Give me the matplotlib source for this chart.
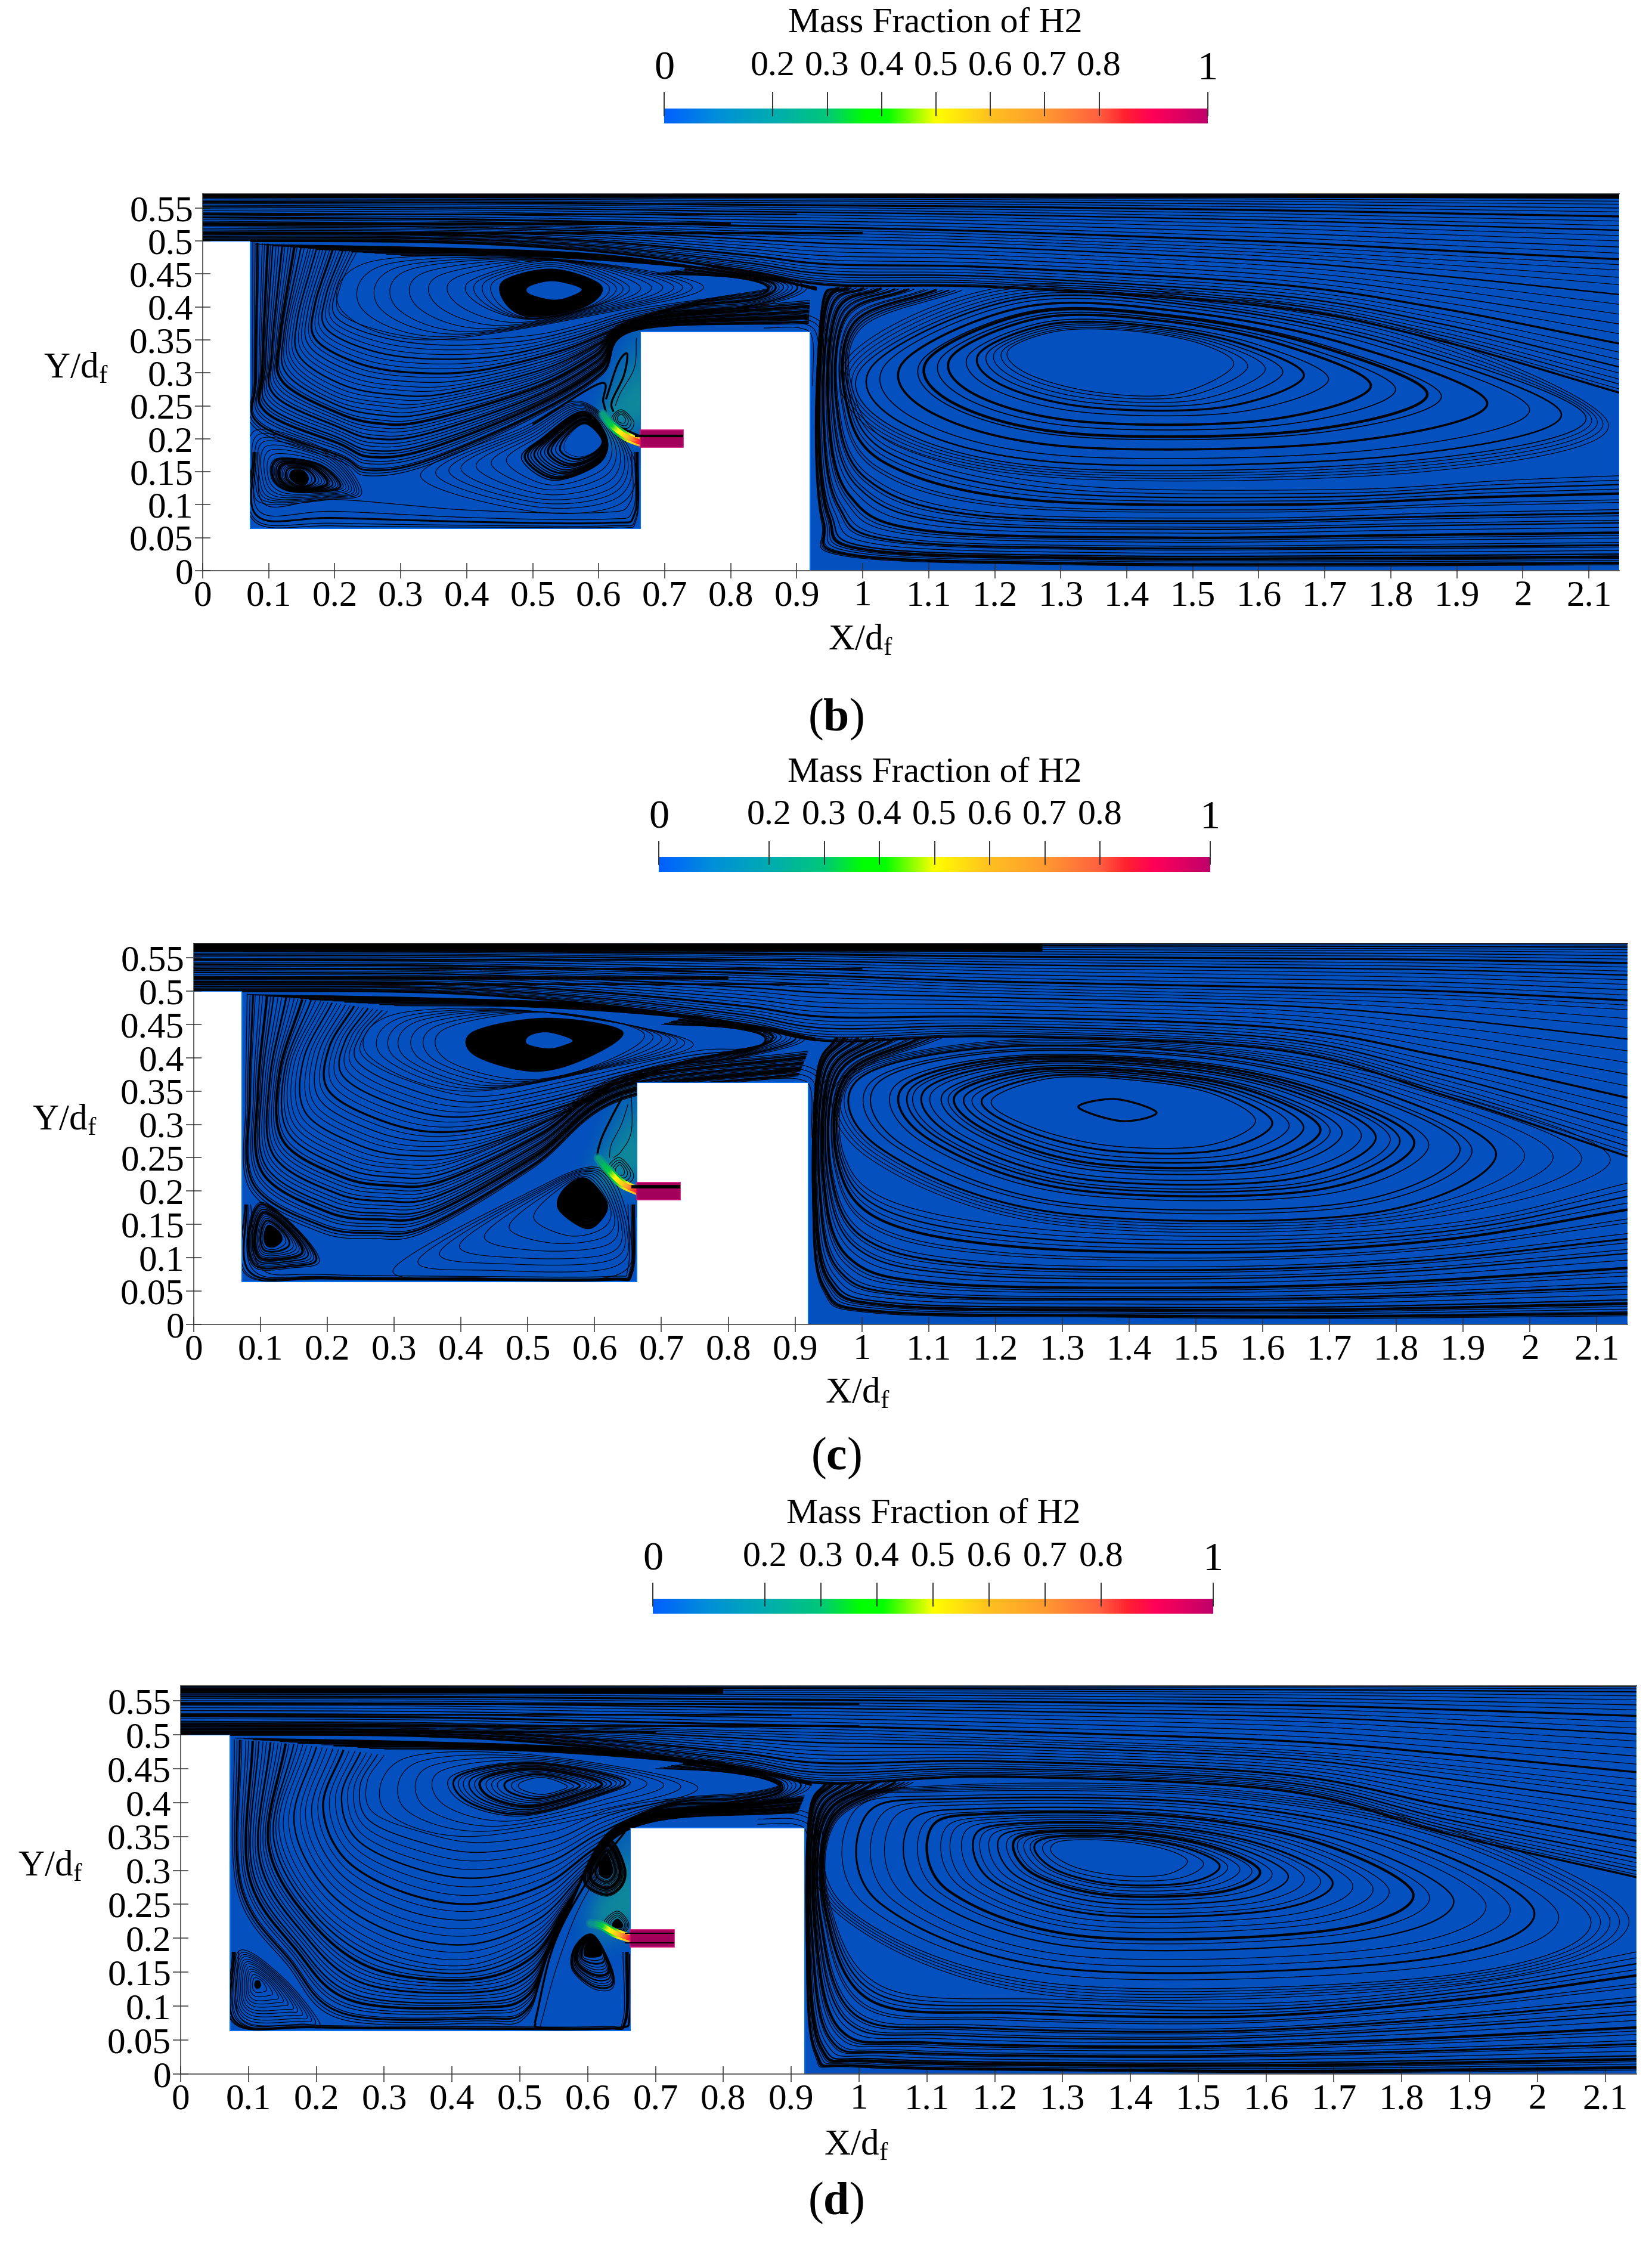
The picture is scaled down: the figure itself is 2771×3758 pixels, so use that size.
import numpy as np
import matplotlib
matplotlib.use("Agg")
import matplotlib.pyplot as plt
from matplotlib.collections import LineCollection
from matplotlib.colors import LinearSegmentedColormap
from matplotlib.patches import PathPatch, Rectangle
from matplotlib.path import Path

plt.rcParams["font.family"] = ["Liberation Serif", "DejaVu Serif"]
plt.rcParams["mathtext.fontset"] = "custom"
plt.rcParams["mathtext.rm"] = "Liberation Serif"
plt.rcParams["mathtext.bf"] = "Liberation Serif:bold"

W, H = 2771, 3758
FIELD = "#0350BE"

# colour bar
CB_POS = [0, .1, .2, .3, .37, .41, .5, .6, .7, .8, .85, .9, 1]
CB_COL = ["#0060ff", "#0090d8", "#00acb0", "#00c878", "#00ff00", "#00ff00", "#ffff00",
          "#ffc020", "#ff9a30", "#ff6040", "#ff2030", "#ff0058", "#c0006a"]
CB_TICKS = [.2, .3, .4, .5, .6, .7, .8]

# geometry of the duct, in X/df and Y/df
GEOM_X = [0, .0727, .0727, .663, .663, .92, .92, 2.146, 2.146, 0]
GEOM_Y = [.5, .5, .064, .064, .363, .363, 0, 0, .572, .572]
X_TICKS = np.round(np.arange(0, 2.15, .1), 1)
Y_TICKS = np.round(np.arange(0, .56, .05), 2)

# teal tint beside the jet
HALO_EXT = [.56, .663, .16, .37]
HALO = [[0, 0, 0, 0, .02, .05],
        [0, 0, 0, .02, .06, .1],
        [0, 0, .01, .05, .12, .16],
        [0, 0, .03, .12, .18, .2],
        [0, .02, .1, .22, .2, .2],
        [0, .02, .06, .1, .08, .04],
        [0, 0, 0, 0, 0, 0]]

# line spacing of the streamline bundles
FAN_A = [.01, .03, .06, .1, .14, .19, .24, .3, .36, .42, .48, .55, .62, .7, .78, .86, .93, 1]
FAN_B = [.06, .12, .2, .28, .36, .44, .52, .6, .67, .73, .79, .84, .89, .93, .97, 1]
BOWL_A = [0, .04, .08, .11, .17, .21, .27, .32, .36, .42, .47, .53, .58, .64, .69, .75, .8, .87, .93, 1]
BOWL_B = [.05, .11, .17, .24, .3, .37, .44, .5, .57, .64, .71, .78, .85, .92, 1]
SHEAR = [0, .06, .12, .18, .24, .3, .36, .42, .5, .58, .66, .74, .82, .9, 1]
WALL = [0, .01, .02, .03, .05, .07, .09, .1, .12, .16, .2, .22, .25, .3, .33, .36, .42, .47, .5,
        .55, .58, .62, .7, .73, .8, .85, .9, .95, 1]
RIM = [0, .1, .3, .55, 1]
TIP = [.25, .5, .75, 1]
THIN_RINGS = [.15, .3, .45, .6, .72, .85, 1]
TIGHT_RINGS = [0, .1, .2, .3, .38, .46, .55, .62, .7, .78, .85, .92, 1]
CORNER = [0, .35, .7, 1]

LW_CYCLE = [.9, .9, 2.2, .9, .9, .9, 3, .9, 1.6]
LW_FAN = [.8, .8, 1.7, .8, .8, 1.1, .8, 2.4]
LW_RING = [1.1, 2.2, 1.1, 1.8, 2.6, 1.1, 1.4]
LW_B_R = [.9, .9, .9, 1.1, 2.4, 1.1, 2.8, 1.2, 3.2, 1.2, 2.6, 1.1, 1.8, 1.1]
LW_THIN = [.8]
LW_WIDE = [2.4]

CORNER_A = [(.85, .368), (.905, .368), (.924, .35), (.924, .28)]
CORNER_B = [(.85, .39), (.915, .388), (.945, .36), (.945, .28)]
RIM_A = [(.076, .18), (.078, .075), (.2, .068), (.43, .066), (.62, .066), (.657, .078), (.66, .18)]
SHEAR_A = [(.08, .495), (.35, .49), (.6, .48), (.8, .452), (.93, .43)]
SHEAR_B = [(.3, .478), (.5, .476), (.7, .463), (.85, .445), (.93, .425)]

CH_X = [0, .35, .6, .82, .953, 1.2, 1.62, 1.87, 2.146]
CH_TOP = [.572] * 9

# panel (b)
B_BOX = [340, 2716, 324.5, 957]
B_BAR = [1114, 2026, 154, 207]
B_MID = [.53, .527, .522, .515, .512, .505, .487, .472, .456]
B_DIV = [.5, .498, .484, .455, .433, .43, .40, .35, .27]
B_BARS_Y = [.568, .541, .526, .512]
B_BARS_END = [2.146, .9, .8, 1.0]
B_BARS_LW = [4, 2, 3, 3]
B_R_CORE = [(1.561, .31), (1.515, .343), (1.413, .363), (1.3, .364), (1.221, .335), (1.249, .299), (1.351, .271), (1.474, .268)]
B_R_OUT = [(2.096, .231), (1.821, .343), (1.515, .404), (1.229, .415), (1.0, .31), (1.055, .213), (1.31, .155), (1.821, .166)]
B_R_TIP = [(2.13, .22), (1.85, .36), (1.515, .42), (1.2, .428), (.975, .32), (1.035, .2), (1.31, .14), (1.85, .15)]
B_R_FR = [0, .04, .09, .14, .2, .27, .39, .46, .55, .59, .72, .84, .93, 1]
B_WALL_A = [(.96, .43), (.938, .404), (.928, .216), (.938, .072), (.974, .022), (1.31, .009), (1.719, .007), (2.146, .009)]
B_WALL_B = [(1.15, .425), (1.0, .37), (.985, .274), (1.055, .188), (1.31, .13), (1.719, .123), (1.974, .137), (2.146, .144)]
B_BOWL_OUT = [(.076, .498), (.076, .289), (.08, .216), (.209, .166), (.249, .144), (.338, .159), (.499, .231), (.604, .296), (.656, .364), (.918, .375)]
B_BOWL_M1 = [(.16, .49), (.13, .37), (.135, .31), (.2, .265), (.27, .25), (.338, .25), (.499, .29), (.59, .335), (.66, .383), (.92, .41)]
B_BOWL_M2 = [(.16, .49), (.13, .37), (.135, .31), (.2, .265), (.27, .25), (.338, .25), (.499, .29), (.59, .335), (.66, .383), (.82, .395), (.92, .43), (.78, .465)]
B_BOWL_IN = [(.235, .487), (.209, .433), (.209, .39), (.281, .361), (.378, .35), (.499, .357), (.58, .375), (.66, .397), (.78, .415), (.86, .43), (.8, .445), (.68, .45)]
B_U_CORE = [(.573, .428), (.531, .439), (.495, .431), (.495, .42), (.531, .411), (.559, .417)]
B_U_BLACK = [(.604, .433), (.531, .458), (.455, .44), (.459, .404), (.499, .384), (.58, .4)]
B_U_THIN = [(.644, .433), (.531, .47), (.406, .44), (.419, .404), (.499, .381), (.604, .404)]
B_U_TEAR = [(.757, .433), (.531, .473), (.256, .469), (.209, .397), (.338, .35), (.62, .393)]
B_LL_CORE = [(.16, .141), (.152, .152), (.136, .152), (.132, .141), (.144, .131), (.156, .131)]
B_LL_OUT = [(.213, .128), (.177, .162), (.112, .17), (.104, .141), (.128, .121), (.177, .119)]
B_LL_BIG = [(.241, .119), (.193, .18), (.08, .213), (.076, .13), (.096, .101), (.193, .108)]
B_M_CORE = [(.604, .198), (.58, .222), (.556, .206), (.548, .184), (.568, .173), (.592, .18)]
B_M_OUT = [(.612, .202), (.576, .242), (.515, .202), (.483, .17), (.531, .137), (.6, .162)]
B_M_BIG = [(.652, .173), (.576, .256), (.483, .216), (.33, .144), (.499, .09), (.632, .101)]
B_RIM_B = [(.085, .18), (.095, .1), (.2, .108), (.4, .092), (.6, .088), (.648, .105), (.65, .18)]
B_CURL_C = [(.636, .232), (.634, .235), (.631, .232), (.632, .228), (.636, .228)]
B_CURL_O = [(.653, .226), (.635, .244), (.62, .233), (.627, .218), (.646, .212)]
B_OPEN_1 = [(.5, .222), (.602, .284), (.607, .255), (.62, .225), (.66, .205)]
B_OPEN_2 = [(.611, .26), (.629, .314), (.643, .329), (.638, .296), (.62, .257), (.622, .241)]
B_OPEN_3 = [(.657, .353), (.654, .308), (.633, .27), (.625, .25)]
B_PLUME = [(.662, .195), (.641, .204), (.62, .22), (.606, .238)]
B_PLUME_H2 = [.9, .62, .42, .25]
B_TUBE_Y = [.204]
B_TUBE_LW = [3]
B_XLAB, B_YLAB, B_CAP = (1443, 1074), (127, 618), (1402, 1206)
B_TITLE_X = 1569

# panel (c)
C_BOX = [325, 2730, 1581.5, 2221]
C_BAR = [1105, 2030, 1410, 1462]
C_MID = [.535, .533, .527, .52, .515, .505, .495, .488, .472]
C_DIV = [.5, .498, .48, .45, .425, .432, .412, .344, .252]
C_BARS_Y = [.565, .547, .534, .52, .511]
C_BARS_END = [1.27, .9, 1.0, .8, .95]
C_BARS_LW = [9, 2, 2, 4, 2]
C_R_CORE = [(1.589, .304), (1.53, .344), (1.43, .364), (1.288, .37), (1.194, .336), (1.254, .296), (1.372, .268), (1.514, .268)]
C_R_OUT = [(1.949, .252), (1.79, .344), (1.539, .404), (1.204, .416), (.995, .368), (1.028, .264), (1.288, .168), (1.748, .165)]
C_R_TIP = [(2.12, .245), (1.83, .36), (1.54, .415), (1.2, .425), (.97, .37), (1.01, .25), (1.288, .15), (1.78, .15)]
C_R_FR = [0, .07, .14, .2, .27, .31, .36, .44, .5, .56, .6, .66, .72, .85, .9, 1]
C_R_EYE = [(1.441, .318), (1.38, .338), (1.324, .326), (1.389, .305)]
C_WALL_A = [(.96, .43), (.932, .376), (.926, .192), (.941, .053), (1.02, .017), (1.372, .011), (1.706, .009), (2.146, .013)]
C_WALL_B = [(1.12, .43), (.985, .37), (.974, .252), (1.054, .181), (1.288, .141), (1.623, .133), (1.915, .157), (2.146, .212)]
C_BOWL_OUT = [(.08, .496), (.078, .337), (.084, .203), (.188, .139), (.268, .129), (.347, .139), (.507, .234), (.642, .337), (.905, .373)]
C_BOWL_M1 = [(.19, .485), (.145, .39), (.15, .3), (.23, .25), (.3, .235), (.38, .24), (.52, .3), (.645, .375), (.92, .41)]
C_BOWL_M2 = [(.19, .485), (.145, .39), (.15, .3), (.23, .25), (.3, .235), (.38, .24), (.52, .3), (.645, .375), (.8, .395), (.92, .43), (.75, .465)]
C_BOWL_IN = [(.29, .47), (.26, .44), (.252, .404), (.315, .368), (.427, .342), (.57, .368), (.745, .409), (.825, .414), (.87, .43), (.8, .445), (.7, .45)]
C_U_CORE = [(.566, .427), (.53, .438), (.503, .433), (.499, .421), (.53, .414), (.554, .419)]
C_U_BLACK = [(.642, .44), (.53, .46), (.419, .44), (.419, .404), (.507, .379), (.586, .398)]
C_U_THIN = [(.66, .44), (.53, .468), (.39, .44), (.4, .395), (.507, .37), (.6, .39)]
C_U_TEAR = [(.745, .424), (.507, .47), (.3, .465), (.26, .405), (.4, .35), (.62, .385)]
C_LL_CORE = [(.132, .126), (.128, .139), (.112, .149), (.105, .134), (.108, .119), (.12, .116)]
C_LL_OUT = [(.188, .095), (.156, .142), (.1, .183), (.08, .131), (.092, .085), (.148, .085)]
C_M_CORE = [(.606, .19), (.586, .214), (.566, .198), (.558, .178), (.582, .16), (.606, .17)]
C_M_OUT = [(.618, .183), (.586, .219), (.554, .203), (.546, .173), (.586, .144), (.61, .157)]
C_M_BIG = [(.654, .131), (.61, .234), (.491, .193), (.299, .083), (.427, .07), (.626, .072)]
C_RIM_B = [(.085, .18), (.1, .085), (.19, .075), (.43, .072), (.62, .072), (.65, .085), (.65, .18)]
C_CURL_C = [(.64, .232), (.638, .236), (.635, .232), (.636, .228), (.64, .228)]
C_CURL_O = [(.658, .226), (.638, .25), (.62, .236), (.628, .218), (.65, .212)]
C_OPEN_1 = [(.642, .342), (.625, .31), (.609, .275), (.605, .245), (.625, .22), (.66, .205)]
C_OPEN_2 = [(.65, .33), (.64, .3), (.625, .27), (.622, .25)]
C_OPEN_3 = [(.655, .35), (.655, .29), (.64, .26), (.628, .25)]
C_PLUME = [(.665, .2), (.64, .212), (.62, .232), (.605, .25)]
C_PLUME_H2 = [.9, .6, .4, .25]
C_TUBE_Y = [.207]
C_TUBE_LW = [4]
C_XLAB, C_YLAB, C_CAP = (1438, 2337), (108, 1879), (1402, 2445)
C_TITLE_X = 1568

# panel (d)
D_BOX = [303, 2745, 2827, 3478]
D_BAR = [1095, 2035, 2654, 2706]
D_MID = [.52, .518, .512, .506, .503, .495, .478, .455, .424]
D_DIV = [.5, .498, .482, .452, .428, .438, .418, .353, .29]
D_BARS_Y = [.565, .546, .53, .513, .504]
D_BARS_END = [.8, 1.0, .9, 1.0, .7]
D_BARS_LW = [7, 2, 2, 2, 2]
D_R_CORE = [(1.484, .314), (1.445, .333), (1.371, .344), (1.297, .343), (1.284, .326), (1.321, .304), (1.387, .292), (1.453, .294)]
D_R_OUT = [(2.079, .224), (1.865, .345), (1.535, .408), (1.124, .416), (.967, .392), (.984, .243), (1.288, .133), (1.865, .145)]
D_R_TIP = [(2.135, .225), (1.9, .355), (1.535, .42), (1.12, .425), (.955, .39), (.97, .235), (1.288, .115), (1.9, .135)]
D_R_FR = [0, .04, .08, .1, .13, .16, .18, .21, .25, .29, .33, .36, .41, .46, .5, .56, .6, .66, .74, .8, .86, .92, 1]
D_WALL_A = [(.95, .43), (.926, .384), (.922, .204), (.934, .031), (1.0, .01), (1.371, .004), (1.7, .002), (2.146, .006)]
D_WALL_B = [(1.08, .43), (.965, .37), (.959, .243), (1.041, .126), (1.288, .11), (1.618, .105), (1.915, .135), (2.146, .18)]
D_BOWL_OUT = [(.079, .493), (.083, .273), (.158, .16), (.236, .081), (.44, .075), (.51, .086), (.55, .194), (.655, .357), (.91, .386)]
D_BOWL_M1 = [(.18, .485), (.145, .36), (.2, .25), (.3, .18), (.42, .16), (.52, .2), (.58, .27), (.66, .375), (.92, .41)]
D_BOWL_M2 = [(.18, .485), (.145, .36), (.2, .25), (.3, .18), (.42, .16), (.52, .2), (.58, .27), (.66, .375), (.78, .385), (.88, .4), (.93, .43), (.78, .465)]
D_BOWL_IN = [(.3, .47), (.275, .431), (.283, .386), (.354, .357), (.44, .341), (.55, .357), (.636, .391), (.745, .408), (.84, .415), (.885, .43), (.8, .445), (.7, .45)]
D_U_CORE = [(.569, .425), (.534, .437), (.502, .43), (.501, .42), (.53, .412), (.557, .417)]
D_U_THIN = [(.659, .434), (.518, .46), (.401, .44), (.416, .4), (.502, .38), (.612, .408)]
D_U_TEAR = [(.76, .425), (.52, .47), (.33, .465), (.3, .39), (.42, .35), (.63, .385)]
D_LL_CORE = [(.118, .131), (.116, .137), (.111, .137), (.109, .131), (.112, .126), (.116, .127)]
D_LL_OUT = [(.205, .075), (.15, .143), (.087, .182), (.077, .103), (.103, .069), (.181, .069)]
D_M_CORE = [(.62, .185), (.608, .198), (.597, .19), (.595, .175), (.608, .172), (.62, .175)]
D_M_OUT = [(.636, .154), (.608, .205), (.581, .188), (.577, .154), (.608, .126), (.636, .126)]
D_V_CORE = [(.636, .307), (.628, .325), (.618, .31), (.617, .295), (.628, .288), (.636, .295)]
D_V_OUT = [(.655, .307), (.632, .346), (.6, .307), (.596, .278), (.628, .262), (.652, .278)]
D_CURL_C = [(.652, .221), (.644, .229), (.636, .222), (.638, .215), (.65, .215)]
D_CURL_O = [(.66, .224), (.644, .24), (.625, .226), (.63, .213), (.655, .21)]
D_RIM_B = [(.085, .18), (.09, .08), (.19, .072), (.43, .07), (.62, .07), (.652, .08), (.652, .18)]
D_OPEN_1 = [(.522, .075), (.55, .19), (.6, .285), (.655, .357)]
D_OPEN_2 = [(.53, .07), (.555, .16), (.59, .25), (.64, .33)]
D_OPEN_3 = [(.522, .075), (.534, .068), (.644, .068), (.662, .086), (.662, .177)]
D_PLUME = [(.663, .2), (.64, .208), (.62, .219), (.604, .222)]
D_PLUME_H2 = [.9, .6, .4, .2]
D_TUBE_Y = [.207, .193]
D_TUBE_LW = [1.5, 1.5]
D_XLAB, D_YLAB, D_CAP = (1436, 3598), (84, 3130), (1402, 3694)
D_TITLE_X = 1566

cb_cmap = LinearSegmentedColormap.from_list("h2", list(zip(CB_POS, CB_COL)))
field_cmap = LinearSegmentedColormap.from_list("field", [(0, FIELD), (.2, "#0F8A9A"), (.4, "#00D040"), (.5, "#ffff00"), (.7, "#ff9a30"), (.85, "#ff2030"), (1, "#c0006a")])


def spline(pts, closed=False, n=24):
    # Catmull-Rom through the traced points
    p = np.asarray(pts, float)
    if closed:
        p = np.vstack([p[-1], p, p[0], p[1]])
    else:
        p = np.vstack([2 * p[0] - p[1], p, 2 * p[-1] - p[-2]])
    t = np.linspace(0, 1, n, endpoint=False)[:, None]
    out = []
    for i in range(1, len(p) - 2):
        p0, p1, p2, p3 = p[i - 1], p[i], p[i + 1], p[i + 2]
        out.append(.5 * (2 * p1 + (p2 - p0) * t + (2 * p0 - 5 * p1 + 4 * p2 - p3) * t ** 2
                         + (3 * p1 - p0 - 3 * p2 + p3) * t ** 3))
    out.append(p[-2][None, :])
    return np.vstack(out)


def bundle(ax, clip, a, b, fracs, closed, cycle):
    a, b = np.asarray(a, float), np.asarray(b, float)
    for i, f in enumerate(fracs):
        xy = spline(a + (b - a) * f, closed)
        ax.plot(xy[:, 0], xy[:, 1], color="k", lw=cycle[i % len(cycle)], solid_capstyle="butt",
                zorder=3, clip_path=clip)


def blob(ax, clip, pts, color="k"):
    xy = spline(pts, True)
    ax.fill(xy[:, 0], xy[:, 1], color=color, lw=0, zorder=4, clip_path=clip)


def plume(ax, pts, h2):
    xy = spline(pts, n=12)
    vals = np.interp(np.linspace(0, 1, len(xy)), np.linspace(0, 1, len(h2)), h2)
    segs = np.stack([xy[:-1], xy[1:]], axis=1)
    for lw, alpha, k in [(11, .55, .75), (6, 1, 1.0)]:
        lc = LineCollection(segs, cmap=field_cmap, norm=plt.Normalize(0, 1), linewidths=lw,
                            alpha=alpha, zorder=5, capstyle="round")
        lc.set_array(vals[:-1] * k)
        ax.add_collection(lc)


def colorbar(fig, box, title_x):
    x0, x1, top, bot = box
    ax = fig.add_axes([x0 / W, 1 - bot / H, (x1 - x0) / W, (bot - top) / H])
    ax.axis("off")
    ax.imshow(np.linspace(0, 1, 512)[None, :], cmap=cb_cmap, extent=[0, 1, 0, .47], aspect="auto")
    ax.set_xlim(0, 1)
    ax.set_ylim(0, 1)
    ax.vlines([0] + CB_TICKS + [1], .23, 1, color="#333333", lw=1.4, clip_on=False)
    for t in CB_TICKS:
        ax.text(t, 1.3, f"{t:.1f}", ha="center", va="bottom", fontsize=43, clip_on=False)
    ax.text(0, 1.14, "0", ha="center", va="bottom", fontsize=49)
    ax.text(1, 1.14, "1", ha="center", va="bottom", fontsize=49)
    fig.text(title_x / W, 1 - (top - 114) / H, "Mass Fraction of H2", ha="center", va="center", fontsize=43)


def panel(fig, box, families, blobs, plume_pts, plume_h2, tube_y, tube_lw, bars, xlab, ylab, cap, letter):
    x0, x1, top, bot = box
    ax = fig.add_axes([x0 / W, 1 - bot / H, (x1 - x0) / W, (bot - top) / H])
    ax.set_facecolor("white")
    verts = list(zip(GEOM_X, GEOM_Y)) + [(GEOM_X[0], GEOM_Y[0])]
    codes = [Path.MOVETO] + [Path.LINETO] * (len(verts) - 2) + [Path.CLOSEPOLY]
    dom = PathPatch(Path(verts, codes), facecolor=FIELD, edgecolor="#0a6fe8", lw=1.5, zorder=1)
    ax.add_patch(dom)
    im = ax.imshow(HALO, extent=HALO_EXT, cmap=field_cmap, vmin=0, vmax=1, aspect="auto",
                   interpolation="bicubic", zorder=2)
    im.set_clip_path(dom)

    for a, b, fr, closed, cycle in families:
        bundle(ax, dom, a, b, fr, closed, cycle)
    for y, end, lw in zip(*bars):
        ax.plot([0, end], [y, y], color="k", lw=lw, solid_capstyle="butt", zorder=3, clip_path=dom)
    for pts, col in blobs:
        blob(ax, dom, pts, col)

    plume(ax, plume_pts, plume_h2)
    ax.add_patch(Rectangle((.663, .187), .065, .026, facecolor="#A3005C", edgecolor="#D0107A", lw=1.2, zorder=6))
    for y, lw in zip(tube_y, tube_lw):
        ax.plot([.655, .728], [y, y], color="k", lw=lw, solid_capstyle="butt", zorder=7)

    ax.set_xlim(0, 2.146)
    ax.set_ylim(0, .572)
    ax.set_xticks(X_TICKS, [f"{v:g}" for v in X_TICKS])
    ax.set_yticks(Y_TICKS, [f"{v:g}" for v in Y_TICKS])
    ax.tick_params(direction="inout", length=19, width=1.1, color="#333333", labelsize=44, pad=2, zorder=8)
    ax.set_axisbelow(False)
    ax.spines["right"].set_visible(False)
    for s in ["left", "bottom", "top"]:
        ax.spines[s].set_color("#555555")
        ax.spines[s].set_linewidth(1.3)
    fig.text(xlab[0] / W, 1 - xlab[1] / H, r"X/d$_{\mathrm{f}}$", ha="center", va="center", fontsize=44)
    fig.text(ylab[0] / W, 1 - ylab[1] / H, r"Y/d$_{\mathrm{f}}$", ha="center", va="center", fontsize=44)
    fig.text(cap[0] / W, 1 - cap[1] / H, "($\\mathbf{" + letter + "}$)", ha="center", va="center", fontsize=56)
    return ax


def channel(mid, div):
    top = np.column_stack([CH_X, CH_TOP])
    m = np.column_stack([CH_X, mid])
    d = np.column_stack([CH_X, div])
    return [(top, m, FAN_A, False, LW_FAN), (m, d, FAN_B, False, LW_FAN),
            (SHEAR_A, SHEAR_B, SHEAR, False, LW_FAN), (CORNER_A, CORNER_B, CORNER, False, LW_THIN)]


def single(pts, closed=False, cycle=LW_WIDE):
    return (pts, pts, [0], closed, cycle)


fig = plt.figure(figsize=(W / 100, H / 100), dpi=100)

colorbar(fig, B_BAR, B_TITLE_X)
colorbar(fig, C_BAR, C_TITLE_X)
colorbar(fig, D_BAR, D_TITLE_X)

panel(fig, B_BOX,
      channel(B_MID, B_DIV) + [
          (B_R_CORE, B_R_OUT, B_R_FR, True, LW_B_R), (B_R_OUT, B_R_TIP, TIP, True, LW_THIN),
          (B_WALL_A, B_WALL_B, WALL, False, LW_CYCLE),
          (B_BOWL_OUT, B_BOWL_M1, BOWL_A, False, LW_CYCLE), (B_BOWL_M2, B_BOWL_IN, BOWL_B, False, LW_FAN),
          (B_U_THIN, B_U_TEAR, THIN_RINGS, True, LW_THIN), (B_U_BLACK, B_U_THIN, TIP, True, LW_THIN),
          (B_LL_CORE, B_LL_OUT, TIGHT_RINGS, True, LW_CYCLE), (B_LL_OUT, B_LL_BIG, THIN_RINGS, True, LW_THIN),
          (B_M_CORE, B_M_OUT, TIGHT_RINGS, True, LW_RING), (B_M_OUT, B_M_BIG, THIN_RINGS, True, LW_THIN),
          (RIM_A, B_RIM_B, RIM, False, LW_CYCLE),
          (B_CURL_C, B_CURL_O, TIP, True, LW_THIN),
          single(B_OPEN_1), single(B_OPEN_2), single(B_OPEN_3, cycle=LW_THIN),
      ],
      [(B_U_BLACK, "k"), (B_U_CORE, FIELD), (B_LL_CORE, "k"), (B_M_CORE, FIELD)],
      B_PLUME, B_PLUME_H2, B_TUBE_Y, B_TUBE_LW, (B_BARS_Y, B_BARS_END, B_BARS_LW),
      B_XLAB, B_YLAB, B_CAP, "b")

panel(fig, C_BOX,
      channel(C_MID, C_DIV) + [
          (C_R_CORE, C_R_OUT, C_R_FR, True, LW_RING), (C_R_OUT, C_R_TIP, TIP, True, LW_THIN),
          single(C_R_EYE, True),
          (C_WALL_A, C_WALL_B, WALL, False, LW_CYCLE),
          (C_BOWL_OUT, C_BOWL_M1, BOWL_A, False, LW_CYCLE), (C_BOWL_M2, C_BOWL_IN, BOWL_B, False, LW_FAN),
          (C_U_THIN, C_U_TEAR, THIN_RINGS, True, LW_THIN),
          (C_LL_CORE, C_LL_OUT, TIGHT_RINGS, True, LW_CYCLE),
          (C_M_CORE, C_M_OUT, TIGHT_RINGS, True, LW_RING), (C_M_OUT, C_M_BIG, THIN_RINGS, True, LW_THIN),
          (RIM_A, C_RIM_B, RIM, False, LW_CYCLE),
          (C_CURL_C, C_CURL_O, TIP, True, LW_THIN),
          single(C_OPEN_1), single(C_OPEN_2, cycle=LW_THIN), single(C_OPEN_3, cycle=LW_THIN),
      ],
      [(C_U_BLACK, "k"), (C_U_CORE, FIELD), (C_LL_CORE, "k"), (C_M_CORE, "k")],
      C_PLUME, C_PLUME_H2, C_TUBE_Y, C_TUBE_LW, (C_BARS_Y, C_BARS_END, C_BARS_LW),
      C_XLAB, C_YLAB, C_CAP, "c")

panel(fig, D_BOX,
      channel(D_MID, D_DIV) + [
          (D_R_CORE, D_R_OUT, D_R_FR, True, LW_CYCLE), (D_R_OUT, D_R_TIP, TIP, True, LW_THIN),
          (D_WALL_A, D_WALL_B, WALL, False, LW_CYCLE),
          (D_BOWL_OUT, D_BOWL_M1, BOWL_A, False, LW_CYCLE), (D_BOWL_M2, D_BOWL_IN, BOWL_B, False, LW_FAN),
          (D_U_CORE, D_U_THIN, TIGHT_RINGS, True, LW_CYCLE), (D_U_THIN, D_U_TEAR, TIP, True, LW_THIN),
          (D_LL_CORE, D_LL_OUT, TIGHT_RINGS, True, LW_THIN),
          (D_M_CORE, D_M_OUT, TIGHT_RINGS, True, LW_CYCLE),
          (D_V_CORE, D_V_OUT, TIGHT_RINGS, True, LW_CYCLE),
          (RIM_A, D_RIM_B, RIM, False, LW_CYCLE),
          (D_CURL_C, D_CURL_O, TIP, True, LW_THIN),
          single(D_OPEN_1), single(D_OPEN_2, cycle=LW_THIN), single(D_OPEN_3),
      ],
      [(D_CURL_C, "k"), (D_M_CORE, "k"), (D_V_CORE, "k"), (D_LL_CORE, "k")],
      D_PLUME, D_PLUME_H2, D_TUBE_Y, D_TUBE_LW, (D_BARS_Y, D_BARS_END, D_BARS_LW),
      D_XLAB, D_YLAB, D_CAP, "d")

fig.savefig("out.png", dpi=100)
